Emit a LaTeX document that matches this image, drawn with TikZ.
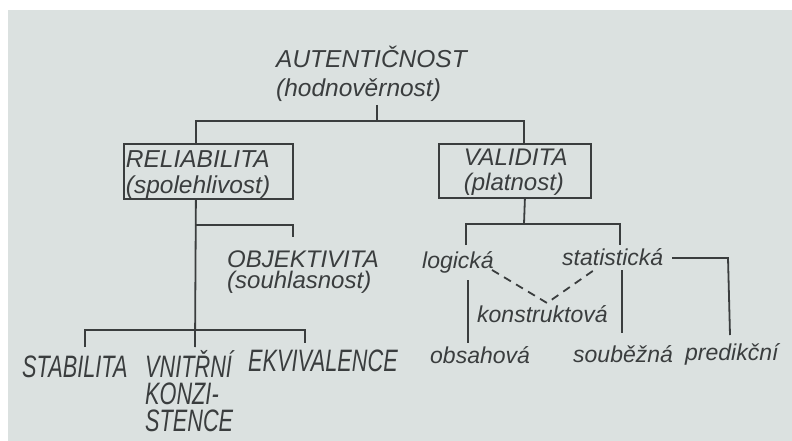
\documentclass[tikz,border=0pt]{standalone}
\usepackage{fontspec}
\newfontfamily\hand{Liberation Sans}
\newfontfamily\handn[FakeStretch=0.70]{Liberation Sans}
\definecolor{paper}{RGB}{219,225,224}
\definecolor{ink}{RGB}{58,61,62}
\newcommand\twol[2]{\vtop{\lineskiplimit=-100pt\hbox{#1}\hbox{#2}}}
\newcommand\threel[3]{\vtop{\lineskiplimit=-100pt\hbox{#1}\hbox{#2}\hbox{#3}}}
\begin{document}
\begin{tikzpicture}[x=1pt,y=-1pt,
  conn/.style={draw=ink, line width=1.8pt},
  dashconn/.style={draw=ink, line width=1.8pt, dash pattern=on 8pt off 6pt},
  txt/.style={inner sep=0pt, text=ink, anchor=base west, font=\hand\itshape\fontsize{23}{26}\selectfont},
  bigtxt/.style={inner sep=0pt, text=ink, anchor=base west, font=\hand\itshape\fontsize{24.5}{29}\selectfont},
  narrowtxt/.style={inner sep=0pt, text=ink, anchor=base west, font=\handn\itshape\fontsize{31}{27}\selectfont},
  box/.style={draw=ink, line width=1.8pt, inner ysep=0pt, anchor=north west, text=ink}]
\fill[white] (0,0) rectangle (792,441);
\fill[paper] (8,10) rectangle (792,441);
\useasboundingbox (0,0) rectangle (792,441);

% nodes
\node[bigtxt] (aut) at (276,68) {\twol{AUTENTIČNOST}{(hodnověrnost)}};
\node[box, inner xsep=2pt, text height=24pt, text depth=31pt,
      font=\hand\itshape\fontsize{24.5}{26}\selectfont] (rel) at (123,143)
      {\hbox to 165pt{\twol{RELIABILITA}{(spolehlivost)}\hss}};
\node[box, inner xsep=0pt, text height=22pt, text depth=32pt,
      font=\hand\itshape\fontsize{24}{25}\selectfont] (val) at (438,143)
      {\hbox to 152pt{\hskip25pt\twol{VALIDITA}{(platnost)}\hss}};
\node[txt, font=\hand\itshape\fontsize{24}{21}\selectfont] (obj) at (227,267) {\twol{OBJEKTIVITA}{(souhlasnost)}};
\node[narrowtxt] (stab) at (22,377) {STABILITA};
\node[narrowtxt] (vnit) at (145,377) {\threel{VNITŘNÍ}{KONZI-}{STENCE}};
\node[narrowtxt] (ekv) at (248,371) {EKVIVALENCE};
\node[txt] (log) at (422,268) {logická};
\node[txt] (stat) at (562,265) {statistická};
\node[txt] (kon) at (477,322) {konstruktová};
\node[txt] (obs) at (430,363) {obsahová};
\node[txt] (soub) at (573,362) {souběžná};
\node[txt] (pred) at (685,360) {predikční};

% junction coordinates
\coordinate (a1) at (377,105);
\coordinate (a2) at (377,121);
\coordinate (r1) at (195,225);
\coordinate (r2) at (195,347);
\coordinate (o1) at (293,237);
\coordinate (bar) at (195,330);
\coordinate (s1) at (85,347);
\coordinate (e1) at (305,343);
\coordinate (v1) at (524,224);
\coordinate (lg1) at (466,245);
\coordinate (st1) at (620,245);
\coordinate (lg2) at (468,280);
\coordinate (lg3) at (468,343);
\coordinate (st2) at (622,270);
\coordinate (st3) at (622,333);
\coordinate (p1) at (672,258);
\coordinate (p2) at (728,258);
\coordinate (p3) at (730,335);
\coordinate (d1) at (492,270);
\coordinate (d2) at (547,303);
\coordinate (d3) at (597,268);

% connectors
\draw[conn] (a1) -- (a2);
\draw[conn] ([xshift=-12.5pt]rel.north) |- (a2) -| ([xshift=9pt]val.north);
\draw[conn] ([xshift=-12.5pt]rel.south) -- (r2);
\draw[conn] (r1) -| (o1);
\draw[conn] (s1) -- (s1 |- bar) -- (e1 |- bar) -- (e1);
\draw[conn] ([xshift=10pt]val.south) -- (v1);
\draw[conn] (lg1) |- (v1) -| (st1);
\draw[conn] (lg2) -- (lg3);
\draw[conn] (st2) -- (st3);
\draw[conn] (p1) -- (p2) -- (p3);
\draw[dashconn] (d1) -- (d2) -- (d3);
\end{tikzpicture}
\end{document}
